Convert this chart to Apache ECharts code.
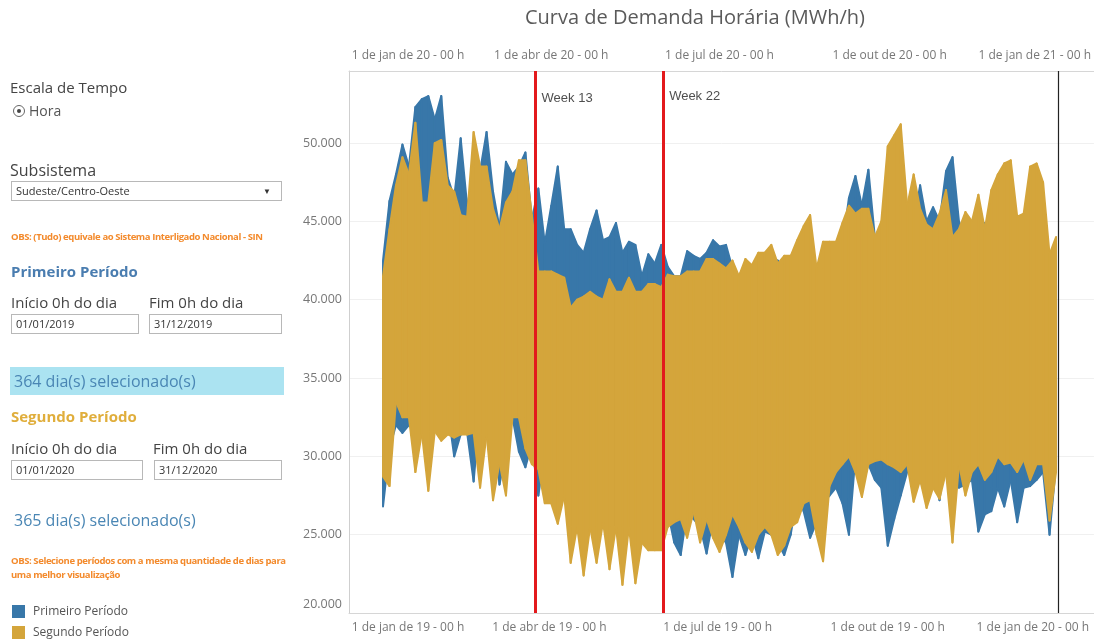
<!DOCTYPE html>
<html>
<head>
<meta charset="utf-8">
<title>Curva de Demanda Horária</title>
<script src="https://cdn.jsdelivr.net/npm/echarts@6/dist/echarts.min.js"></script>
<style>
  body { margin: 0; background: #fff; font-family: "Open Sans", sans-serif; }
  .wrap { position: relative; width: 1094px; height: 642px; overflow: hidden; }
  #chart { position: absolute; left: 0; top: 0; width: 1094px; height: 642px; }
  .panel { position: absolute; left: 0; top: 0; width: 300px; height: 600px; z-index: 2; color: #444; }
  .panel div { position: absolute; white-space: nowrap; }
  .lbl { font-size: 15px; line-height: 20px; color: #444; }
  .sub { font-size: 16px; line-height: 22px; color: #444; }
  .obs { font-size: 9.5px; line-height: 14px; color: #f38a2c; font-weight: bold; letter-spacing: -0.4px; }
  .head { font-size: 15px; line-height: 20px; font-weight: bold; }
  .box { border: 1px solid #b8b8b8; font-size: 11px; line-height: 18px; padding-left: 4px; color: #333; box-sizing: border-box; height: 20px; }
  .sel { font-size: 16px; line-height: 28px; color: #4a86b4; padding-left: 4px; }
</style>
</head>
<body>
<div class="wrap">
  <div id="chart"></div>
  <div class="panel">
    <div class="lbl" style="left:10px;top:77px;">Escala de Tempo</div>
    <div style="left:13px;top:105px;width:10px;height:10px;border:1px solid #666;border-radius:50%;"></div>
    <div style="left:17px;top:109px;width:4px;height:4px;background:#444;border-radius:50%;"></div>
    <div class="lbl" style="left:29px;top:101px;font-size:14px;color:#555;">Hora</div>

    <div class="sub" style="left:10px;top:159px;">Subsistema</div>
    <div class="box" style="left:11px;top:181px;width:271px;">Sudeste/Centro-Oeste<span style="position:absolute;right:10px;top:0;font-size:8px;color:#333;">&#9660;</span></div>
    <div class="obs" style="left:11px;top:230px;">OBS: (Tudo) equivale ao Sistema Interligado Nacional - SIN</div>

    <div class="head" style="left:11px;top:261px;color:#4a7db0;">Primeiro Período</div>
    <div class="lbl" style="left:11px;top:292px;">Início 0h do dia</div>
    <div class="lbl" style="left:149px;top:292px;">Fim 0h do dia</div>
    <div class="box" style="left:11px;top:314px;width:128px;">01/01/2019</div>
    <div class="box" style="left:149px;top:314px;width:133px;">31/12/2019</div>
    <div class="sel" style="left:10px;top:367px;width:270px;height:28px;background:#abe3f1;">364 dia(s) selecionado(s)</div>

    <div class="head" style="left:11px;top:406px;color:#e0ae3c;">Segundo Período</div>
    <div class="lbl" style="left:11px;top:438px;">Início 0h do dia</div>
    <div class="lbl" style="left:153px;top:438px;">Fim 0h do dia</div>
    <div class="box" style="left:11px;top:460px;width:132px;">01/01/2020</div>
    <div class="box" style="left:154px;top:460px;width:128px;">31/12/2020</div>
    <div class="sel" style="left:10px;top:506px;">365 dia(s) selecionado(s)</div>

    <div class="obs" style="left:11px;top:554px;">OBS: Selecione períodos com a mesma quantidade de dias para</div>
    <div class="obs" style="left:11px;top:568px;">uma melhor visualização</div>
  </div>
</div>
<script>
// envelope of the hourly curve, one value every 3.5 days (MWh/h, thousands)
const dayStep = 3.5;
// Primeiro Período (2019)
const hi1 = [42.5, 46.3, 48.0, 49.9, 48.5, 52.3, 52.8, 53.0, 51.5, 53.0, 47.8, 46.5, 50.3, 46.0, 48.0, 48.2, 50.7, 46.9, 44.6, 48.8, 48.0, 48.5, 49.4, 45.1, 47.1, 43.6,
  46.0, 48.5, 44.5, 44.5, 43.5, 43.0, 44.5, 45.7, 43.8, 44.0, 44.9, 43.0, 43.7, 43.5, 41.5, 42.9, 42.3, 43.5, 42.1, 41.5, 41.5, 43.1, 42.8, 42.6, 43.0, 43.8,
  43.4, 43.5, 42.0, 41.5, 42.3, 41.8, 42.0, 42.0, 42.5, 42.5, 42.0, 42.0, 42.0, 42.0, 42.0, 42.0, 42.5, 43.0, 43.0, 43.5, 46.5, 47.9, 46.0, 48.3, 44.0, 43.5, 44.0,
  45.5, 45.0, 44.5, 45.0, 47.3, 45.0, 45.9, 45.0, 48.2, 49.1, 45.0, 44.0, 44.0, 44.5, 44.9, 44.5, 44.0, 44.5, 44.0, 44.5, 44.5, 44.0, 43.5, 43.0, 41.5, 41.0];
const lo1 = [26.8, 30.5, 32.0, 31.5, 32.0, 32.0, 34.0, 32.5, 32.5, 33.0, 33.0, 30.0, 31.4, 31.5, 28.4, 33.0, 32.5, 32.0, 28.2, 30.3, 32.5, 30.3, 29.3, 30.8, 27.5, 30.3,
  27.5, 28.5, 28.0, 26.0, 27.0, 25.5, 27.0, 25.5, 27.0, 25.0, 27.0, 25.0, 27.0, 25.0, 24.5, 25.5, 25.5, 25.0, 26.5, 24.5, 23.7, 26.5, 26.0, 25.5, 23.8, 26.0,
  25.0, 24.5, 22.3, 25.0, 23.7, 25.0, 23.5, 25.2, 25.0, 24.5, 23.7, 25.0, 27.5, 26.5, 24.8, 25.8, 27.0, 27.5, 28.0, 27.0, 25.0, 30.0, 28.0, 29.5, 28.5, 28.0, 24.3,
  26.0, 27.5, 29.0, 29.5, 28.5, 27.4, 29.0, 27.2, 30.5, 29.0, 28.0, 28.2, 28.5, 25.2, 26.3, 26.5, 28.0, 26.8, 28.5, 25.8, 28.0, 28.1, 28.5, 29.0, 25.0, 29.5];
// Segundo Período (2020)
const hi2 = [41.5, 44.5, 47.3, 49.1, 48.0, 51.3, 46.2, 46.2, 50.0, 50.2, 47.3, 46.9, 45.4, 45.3, 50.7, 48.5, 48.5, 45.8, 44.5, 46.2, 46.9, 48.9, 48.9, 45.4, 41.8, 41.8,
  41.8, 41.6, 41.4, 39.5, 40.0, 40.2, 40.5, 40.2, 40.0, 41.3, 40.5, 40.5, 41.4, 40.5, 40.5, 41.0, 41.0, 40.8, 41.6, 41.5, 41.5, 41.8, 41.8, 41.8, 42.6, 42.6,
  42.3, 42.0, 42.5, 41.5, 42.6, 42.2, 43.0, 43.0, 43.5, 42.3, 42.8, 42.8, 43.8, 44.7, 45.4, 42.0, 43.7, 43.7, 43.7, 44.9, 46.0, 45.5, 45.8, 45.8, 44.0, 45.0, 49.8,
  50.5, 51.2, 46.0, 48.0, 45.8, 44.8, 44.5, 45.5, 47.0, 44.0, 44.5, 45.6, 45.0, 46.7, 44.5, 47.0, 48.0, 48.7, 48.9, 45.3, 45.5, 48.5, 48.7, 47.5, 42.9, 44.0];
const lo2 = [28.7, 28.1, 33.5, 32.5, 32.5, 29.0, 31.5, 27.8, 31.6, 31.0, 31.4, 31.2, 31.4, 31.4, 31.5, 28.0, 31.4, 27.2, 29.6, 27.5, 32.5, 32.5, 30.5, 29.5, 29.2, 27.0,
  27.0, 25.7, 27.5, 23.2, 25.5, 22.4, 25.5, 23.2, 25.8, 22.8, 25.5, 21.8, 25.5, 21.9, 24.5, 24.0, 24.0, 24.0, 25.5, 25.8, 26.0, 24.8, 26.5, 24.5, 26.0, 24.8,
  23.9, 25.0, 26.3, 25.5, 24.5, 23.9, 25.0, 25.5, 25.0, 23.7, 24.3, 25.5, 25.8, 27.0, 27.2, 25.0, 23.3, 28.1, 29.0, 29.5, 30.0, 29.0, 27.4, 29.5, 29.7, 29.8, 29.5,
  29.3, 29.0, 29.5, 27.1, 28.5, 26.7, 28.0, 27.3, 29.0, 24.5, 29.5, 27.5, 29.0, 29.5, 28.5, 29.0, 30.0, 29.5, 29.6, 29.0, 29.8, 28.5, 29.5, 29.5, 25.9, 29.0];

// eixo x: dia do período
const bottomTicks = [0, 90, 181, 273, 365];
const bottomLabels = ["1 de jan de 19 - 00 h", "1 de abr de 19 - 00 h", "1 de jul de 19 - 00 h", "1 de out de 19 - 00 h", "1 de jan de 20 - 00 h"];
const topTicks = [0, 91, 182, 274, 366];
const topLabels = ["1 de jan de 20 - 00 h", "1 de abr de 20 - 00 h", "1 de jul de 20 - 00 h", "1 de out de 20 - 00 h", "1 de jan de 21 - 00 h"];
const weekDays = [82.5, 151.5];
const weekNames = ["Week 13", "Week 22"];
const periodEnd = 365;
const seriesNames = ["Primeiro Período", "Segundo Período"];

const blue = "#3877a9";
const gold = "#d4a53b";
const axisFont = "Open Sans";

// one item per segment: [x0, lo0, hi0, x1, lo1, hi1]
function segments(hi, lo) {
  const out = [];
  for (let i = 0; i < hi.length - 1; i++) {
    out.push([i * dayStep, lo[i] * 1000, hi[i] * 1000, (i + 1) * dayStep, lo[i + 1] * 1000, hi[i + 1] * 1000]);
  }
  return out;
}
function band(name, hi, lo, color, z) {
  return {
    name: name, type: "custom", z: z, silent: true, clip: true,
    itemStyle: { color: color },
    data: segments(hi, lo),
    encode: { x: [0, 3], y: [1, 2, 4, 5] },
    renderItem: function (params, api) {
      const a = api.coord([api.value(0), api.value(1)]);
      const b = api.coord([api.value(0), api.value(2)]);
      const c = api.coord([api.value(3), api.value(5)]);
      const d = api.coord([api.value(3), api.value(4)]);
      return {
        type: "polygon",
        shape: { points: [a, b, c, d] },
        style: { fill: color, stroke: color, lineWidth: 2, lineJoin: "round" }
      };
    }
  };
}
function tickLabel(ticks, labels) {
  return function (val) {
    const i = ticks.indexOf(Math.round(val));
    if (i < 0) return "";
    if (i === 0) return "{f|" + labels[i] + "}";
    if (i === labels.length - 1) return "{l|" + labels[i] + "}";
    return "{m|" + labels[i] + "}";
  };
}
const labelRich = {
  f: { padding: [0, 0, 0, 50], fontSize: 12, color: "#777", fontFamily: axisFont },
  l: { padding: [0, 50, 0, 0], fontSize: 12, color: "#777", fontFamily: axisFont },
  m: { fontSize: 12, color: "#777", fontFamily: axisFont }
};
const xMin = -18.4;
const xMax = 384.5;

const myChart = echarts.init(document.getElementById("chart"));
const option = {
  animation: false,
  title: {
    text: "Curva de Demanda Horária (MWh/h)",
    left: 520, top: 3,
    textStyle: { fontSize: 20, fontWeight: "normal", color: "#5a5a5a", fontFamily: axisFont }
  },
  legend: {
    data: seriesNames,
    orient: "vertical",
    left: 12, top: 605, padding: 0,
    icon: "rect", itemWidth: 13, itemHeight: 13, itemGap: 8,
    textStyle: { fontSize: 12, color: "#555", fontFamily: axisFont, padding: [0, 0, 0, 3] }
  },
  grid: { left: 349, right: 0, top: 71, bottom: 29 },
  xAxis: [
    {
      type: "value", position: "bottom", min: xMin, max: xMax,
      axisLine: { show: true, onZero: false, lineStyle: { color: "#d6d6d6" } },
      axisTick: { show: false, customValues: bottomTicks },
      splitLine: { show: false },
      axisLabel: { customValues: bottomTicks, margin: 9, formatter: tickLabel(bottomTicks, bottomLabels), rich: labelRich }
    },
    {
      type: "value", position: "top", min: xMin, max: xMax,
      axisLine: { show: true, onZero: false, lineStyle: { color: "#d6d6d6" } },
      axisTick: { show: false, customValues: topTicks },
      splitLine: { show: false },
      axisLabel: { customValues: topTicks, margin: 9, formatter: tickLabel(topTicks, topLabels), rich: labelRich }
    }
  ],
  yAxis: {
    type: "value", min: 20000, max: 54600, interval: 5000,
    axisLine: { show: true, onZero: false, lineStyle: { color: "#cfcfcf" } },
    axisTick: { show: false },
    splitLine: { lineStyle: { color: "#f0f0f0" } },
    axisLabel: {
      showMaxLabel: false, margin: 7,
      formatter: function (v) {
        const s = (v / 1000).toFixed(3);
        return v === 20000 ? "{b|" + s + "}" : "{n|" + s + "}";
      },
      rich: {
        n: { fontSize: 12.5, color: "#777", fontFamily: axisFont },
        b: { fontSize: 12.5, color: "#777", fontFamily: axisFont, padding: [0, 0, 17, 0] }
      }
    }
  },
  series: [
    band(seriesNames[0], hi1, lo1, blue, 2),
    band(seriesNames[1], hi2, lo2, gold, 3),
    {
      name: "marcas", type: "scatter", z: 10, silent: true,
      symbolSize: 0,
      data: weekDays.map((d, i) => ({ value: [d, i === 0 ? 52850 : 52950], name: weekNames[i] })),
      label: {
        show: true, position: "right", distance: 6,
        formatter: "{b}", color: "#222", fontSize: 13, fontFamily: "Liberation Sans"
      },
      markLine: {
        symbol: "none", silent: true, label: { show: false },
        data: [
          { xAxis: weekDays[0], lineStyle: { color: "#e3191c", width: 3, type: "solid" } },
          { xAxis: weekDays[1], lineStyle: { color: "#e3191c", width: 3, type: "solid" } },
          { xAxis: periodEnd, lineStyle: { color: "#222", width: 1.2, type: "solid" } }
        ]
      }
    }
  ]
};
myChart.setOption(option);
</script>
</body>
</html>
